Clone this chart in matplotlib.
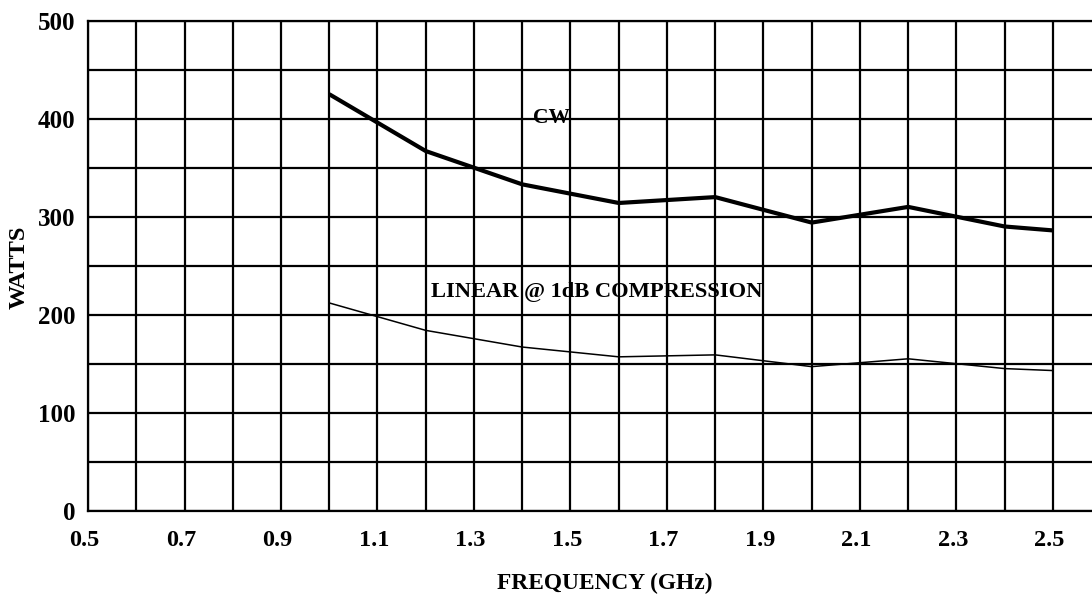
import numpy as np
import matplotlib
matplotlib.use("Agg")
import matplotlib.pyplot as plt
from matplotlib.ticker import MultipleLocator
from matplotlib.transforms import ScaledTranslation

plt.rcParams["font.family"] = ["Liberation Serif", "DejaVu Serif"]
plt.rcParams["font.weight"] = "bold"

freq = [1.0, 1.2, 1.4, 1.6, 1.8, 2.0, 2.2, 2.4, 2.5]
cw_watts = [425, 367, 333, 314, 320, 294, 310, 290, 286]
linear_watts = [212, 184, 167, 157, 159, 147, 155, 145, 143]

x_ticks = [0.5, 0.7, 0.9, 1.1, 1.3, 1.5, 1.7, 1.9, 2.1, 2.3, 2.5]
y_ticks = [0, 100, 200, 300, 400, 500]

fig = plt.figure(figsize=(10.92, 5.95), dpi=100)
ax = fig.add_axes([0.0806, 0.1417, 0.9194, 0.8235])

ax.plot(freq, cw_watts, color="black", lw=3.0, solid_capstyle="butt", zorder=3)
ax.plot(freq, linear_watts, color="black", lw=1.1, zorder=3)

ax.set_xlim(0.5, 2.581)
ax.set_ylim(0, 500)
ax.set_xticks(x_ticks)
ax.set_xticklabels([f"{v:.1f}" for v in x_ticks])
ax.xaxis.set_minor_locator(MultipleLocator(0.1))
ax.set_yticks(y_ticks)
ax.yaxis.set_minor_locator(MultipleLocator(50))
ax.grid(which="both", color="black", lw=1.6)
ax.set_axisbelow(True)
ax.tick_params(which="both", length=0)
ax.tick_params(axis="x", labelsize=17.5, pad=14)
ax.tick_params(axis="y", labelsize=18, pad=9)

# labels sit a little left of their gridlines in the original
shift = ScaledTranslation(-3.5 / 100, 0, fig.dpi_scale_trans)
for lbl in ax.get_xticklabels():
    lbl.set_transform(lbl.get_transform() + shift)
for lbl in ax.get_xticklabels() + ax.get_yticklabels():
    lbl.set_fontweight("bold")

for side in ["left", "bottom", "top"]:
    ax.spines[side].set_linewidth(1.6)
ax.spines["right"].set_visible(False)

ax.text(1.422, 401, "CW", fontsize=15.5, fontweight="bold", va="center", ha="left")
ax.text(1.211, 223, "LINEAR @ 1dB COMPRESSION", fontsize=16.2, fontweight="bold",
        va="center", ha="left")

ax.set_xlabel("FREQUENCY (GHz)", fontsize=16.8, fontweight="bold")
ax.xaxis.set_label_coords(0.515, -0.127)
ax.set_ylabel("WATTS", fontsize=17.5, fontweight="bold")
ax.yaxis.set_label_coords(-0.0687, 0.496)
ax.yaxis.label.set_va("center")

fig.savefig("out.png", dpi=100)
